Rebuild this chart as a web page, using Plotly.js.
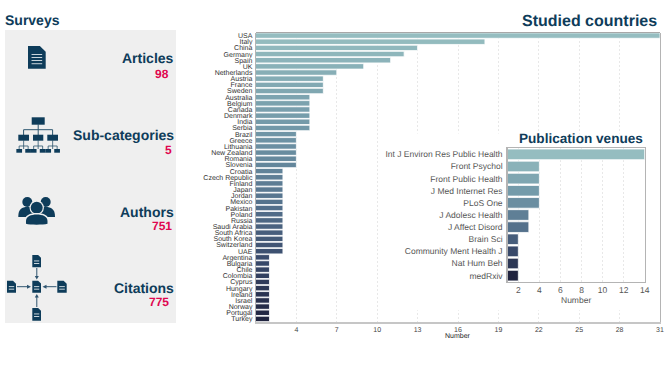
<!DOCTYPE html>
<html>
<head>
<meta charset="utf-8">
<script src="https://cdn.plot.ly/plotly-3.0.1.min.js"></script>
<style>
  html, body { margin: 0; padding: 0; background: #fff; }
  #chart { width: 667px; height: 375px; }
  #chart text { text-rendering: geometricPrecision; }
</style>
</head>
<body>
<div id="chart"></div>
<script>
const countries = ["USA","Italy","China","Germany","Spain","UK","Netherlands","Austria","France","Sweden",
  "Australia","Belgium","Canada","Denmark","India","Serbia","Brazil","Greece","Lithuania","New Zealand",
  "Romania","Slovenia","Croatia","Czech Republic","Finland","Japan","Jordan","Mexico","Pakistan","Poland",
  "Russia","Saudi Arabia","South Africa","South Korea","Switzerland","UAE","Argentina","Bulgaria","Chile",
  "Colombia","Cyprus","Hungary","Ireland","Israel","Norway","Portugal","Turkey"];
const countryCounts = [31,18,13,12,11,9,7,6,6,6,5,5,5,5,5,5,4,4,4,4,4,4,3,3,3,3,3,3,3,3,3,3,3,3,3,3,2,2,2,2,2,2,2,2,2,2,2];
const countryTicks = [4,7,10,13,16,19,22,25,28,31];

const venues = ["Int J Environ Res Public Health","Front Psychol","Front Public Health","J Med Internet Res",
  "PLoS One","J Adolesc Health","J Affect Disord","Brain Sci","Community Ment Health J","Nat Hum Beh","medRxiv"];
const venueCounts = [14,4,4,4,4,3,3,2,2,2,2];
const venueTicks = [2,4,6,8,10,12,14];

const statLabels = ["Articles","Sub-categories","Authors","Citations"];
const statValues = ["98","5","751","775"];

const W = 667, H = 375;
const NAVY = "#0e3c5a", RED = "#e0064f", BORDER = "#b4b4b4", GRID = "#e8e8e8";
const ramp = [[0,"#95bdc0"],[0.35,"#6f95a6"],[0.6,"#54718c"],[0.8,"#38496a"],[1,"#20243f"]];

// everything decorative is placed in page pixels, converted to paper fractions
const fx = x => x / W;
const fy = y => 1 - y / H;
function path(d) {
  let isX = true;
  return d.replace(/-?\d+(\.\d+)?/g, n => {
    const out = isX ? fx(+n) : fy(+n);
    isX = !isX;
    return out.toFixed(5);
  });
}
const shapes = [];
function fill(d, color) {
  shapes.push({type:"path", xref:"paper", yref:"paper", path:path(d), fillcolor:color || NAVY, line:{width:0}});
}
function stroke(d, color, w) {
  shapes.push({type:"path", xref:"paper", yref:"paper", path:path(d), line:{color:color || NAVY, width:w || 1}});
}
function box(x0, y0, x1, y1, color) {
  fill(`M${x0} ${y0} L${x1} ${y0} L${x1} ${y1} L${x0} ${y1} Z`, color);
}
function circle(cx, cy, r, color) {
  shapes.push({type:"circle", xref:"paper", yref:"paper", x0:fx(cx-r), x1:fx(cx+r), y0:fy(cy+r), y1:fy(cy-r),
    fillcolor:color || NAVY, line:{width:0}});
}
function doc(x0, y0, x1, y1, lines) {
  const f = (x1 - x0) * 0.33;
  fill(`M${x0} ${y0} L${x1-f} ${y0} L${x1} ${y0+f} L${x1} ${y1} L${x0} ${y1} Z`);
  lines.forEach(ly => box(x0 + (x1-x0)*0.2, ly, x1 - (x1-x0)*0.2, ly + 0.9, "#dfe6ea"));
}

// grey panel
box(5, 30, 176, 323, "#efefef");

// article icon
doc(28, 46, 45.7, 68.7, [54, 57, 60, 63.3]);

// org tree icon
box(31.7, 117.3, 44.7, 124.7);
stroke("M38.2 124 L38.2 135 M23.6 135 L23.6 129.7 L52.6 129.7 L52.6 135", "#2c566f", 1);
[[18.3,29],[33,43.3],[47.3,58]].forEach(([a, b]) => {
  box(a, 134.7, b, 140.7);
  const c = (a + b) / 2;
  stroke(`M${c} 140 L${c} 149 M${c-4.5} 149 L${c-4.5} 146 L${c+4.5} 146 L${c+4.5} 149`, "#2c566f", 0.8);
  box(c-7.3, 149, c-1.6, 152.7);
  box(c+1.6, 149, c+7.3, 152.7);
});

// people icon
circle(27.3, 202, 5);
circle(45.7, 202, 5);
fill("M18.3 216.5 C18.3 209 22 207 27.3 207 C32 207 35 209 36 211 L36 217 L18.3 217 Z");
fill("M55 216.5 C55 209 51 207 45.7 207 C41 207 38 209 37 211 L37 217 L55 217 Z");
circle(36.7, 207.7, 7.2, "#efefef");
circle(36.7, 207.7, 6);
fill("M24.5 224.5 L24.5 221 C24.5 215.5 30 213 36.7 213 C43.5 213 49 215.5 49 221 L49 224.5 C44 225.8 30 225.8 24.5 224.5 Z", "#efefef");
fill("M26 223.8 L26 221 C26 216.5 31 214.5 36.7 214.5 C42.5 214.5 47.5 216.5 47.5 221 L47.5 223.8 C43 225 30 225 26 223.8 Z");

// citation network icon
[[32.3,280.7,41,292.7],[32.3,255,41,267.3],[32.3,308,41,320.7],[7,280.7,16,292.7],[57.3,280.7,66.7,292.7]].forEach(d => {
  doc(d[0], d[1], d[2], d[3], [d[1]+5.5, d[1]+8]);
});
const ARROW = "#2f5570";
stroke("M36.8 268 L36.8 277", ARROW, 1);  fill("M34.8 276 L38.8 276 L36.8 279.5 Z", ARROW);
stroke("M36.8 307 L36.8 297", ARROW, 1);  fill("M34.8 297.5 L38.8 297.5 L36.8 294 Z", ARROW);
stroke("M17 286.7 L28 286.7", ARROW, 1);  fill("M27 284.7 L27 288.7 L31 286.7 Z", ARROW);
stroke("M56.5 286.7 L46 286.7", ARROW, 1); fill("M46.5 284.7 L46.5 288.7 L42.5 286.7 Z", ARROW);

// white backing behind the inset, sits above the main grid but below the inset
shapes.push({type:"rect", xref:"x", yref:"y", layer:"between", x0:10.2, x1:30.9, y0:15.9, y1:44.6,
  fillcolor:"#fff", line:{width:0}});

// top edge of the main plot is darker than the bottom axis
shapes.push({type:"line", xref:"paper", yref:"paper", layer:"above", x0:fx(256), x1:fx(660), y0:fy(32.5), y1:fy(32.5),
  line:{color:"#a8a8a8", width:1.2}});

function text(str, x, y, size, color, bold, anchor) {
  return {text: bold ? `<b>${str}</b>` : str, xref:"paper", yref:"paper", x:fx(x), y:fy(y), showarrow:false,
    xanchor:anchor || "center", yanchor:"middle", font:{family:"Liberation Sans, Arial, sans-serif", size:size, color:color}};
}
const annotations = [
  text("Surveys", 3, 20, 14, NAVY, true, "left"),
  text("Studied countries", 659, 20, 16, NAVY, true, "right"),
  text("Publication venues", 581, 138.5, 13.6, NAVY, true),
  text(statLabels[0], 176, 58, 14, NAVY, true, "right"),
  text(statValues[0], 162, 74, 12, RED, true),
  text(statLabels[1], 176, 135.5, 14, NAVY, true, "right"),
  text(statValues[1], 168.5, 150, 12, RED, true),
  text(statLabels[2], 176, 212, 14, NAVY, true, "right"),
  text(statValues[2], 161.5, 226, 12, RED, true),
  text(statLabels[3], 176, 288, 14, NAVY, true, "right"),
  text(statValues[3], 159, 302, 12, RED, true),
  text("Number", 458, 335.5, 7, "#222", false),
  text("Number", 576, 300, 8.5, "#555", false)
];

const FONT = "Liberation Sans, Arial, sans-serif";
const countryIdx = countries.map((_, i) => i);
const venueIdx = venues.map((_, i) => i);

const data = [
  {type:"bar", orientation:"h", x:countryCounts, y:countries, xaxis:"x", yaxis:"y", hoverinfo:"x+y",
   marker:{color:countryIdx, colorscale:ramp, cmin:0, cmax:countries.length-1, showscale:false, line:{color:"#fff", width:0.8}}},
  {type:"bar", orientation:"h", x:venueCounts, y:venues, xaxis:"x2", yaxis:"y2", hoverinfo:"x+y",
   marker:{color:venueIdx, colorscale:ramp, cmin:0, cmax:venues.length-1, showscale:false, line:{color:"#fff", width:0.8}}}
];

const layout = {
  width:W, height:H, margin:{l:0, r:0, t:0, b:0}, paper_bgcolor:"#fff", plot_bgcolor:"rgba(0,0,0,0)",
  showlegend:false, bargap:0.12, font:{family:FONT},
  shapes:shapes, annotations:annotations,
  xaxis:{domain:[fx(256),fx(660)], range:[1,31], tickmode:"array", tickvals:countryTicks, ticklen:0,
    tickfont:{size:7, color:"#444"}, showgrid:true, gridcolor:GRID, griddash:"2px,2px", gridwidth:1, zeroline:false,
    showline:true, linecolor:"#c6c6c6", linewidth:2, anchor:"y"},
  yaxis:{domain:[fy(322),fy(32.5)], type:"category", categoryorder:"array", categoryarray:countries,
    range:[46.5,-0.5], tickmode:"linear", dtick:1, ticklen:0, ticklabelstandoff:1, tickfont:{size:7, color:"#333"},
    showgrid:false, zeroline:false, showline:true, linecolor:BORDER, linewidth:1.2, mirror:true, anchor:"x"},
  xaxis2:{domain:[fx(507.8),fx(644.7)], range:[1,14], tickmode:"array", tickvals:venueTicks, ticklen:0,
    tickfont:{size:8.5, color:"#555"}, showgrid:true, gridcolor:GRID, griddash:"2px,2px", gridwidth:1, zeroline:false,
    showline:true, linecolor:BORDER, linewidth:1.5, mirror:true, anchor:"y2"},
  yaxis2:{domain:[fy(281.7),fy(148.3)], type:"category", categoryorder:"array", categoryarray:venues,
    range:[10.5,-0.5], tickmode:"linear", dtick:1, ticklen:0, ticklabelstandoff:2, tickfont:{size:8.5, color:"#555"},
    showgrid:false, zeroline:false, showline:true, linecolor:BORDER, linewidth:1.5, mirror:true, anchor:"x2"}
};

Plotly.newPlot("chart", data, layout, {displayModeBar:false, staticPlot:true});
</script>
</body>
</html>
